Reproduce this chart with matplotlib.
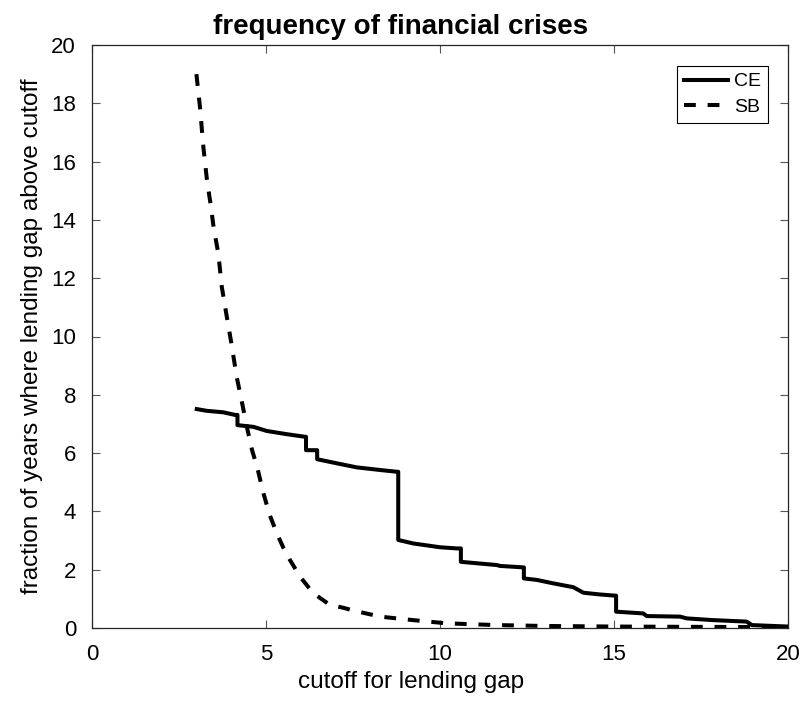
import matplotlib
matplotlib.use("Agg")
import matplotlib.pyplot as plt

# =====================================================
# DATA
# =====================================================

ce_x = [3.01, 3.30, 3.77, 4.11, 4.18, 4.18, 4.64, 5.02, 5.59, 6.12, 6.15, 6.15,
        6.46, 6.47, 6.47, 7.03, 7.61, 8.28, 8.76, 8.80, 8.80, 9.23, 10.0, 10.48,
        10.60, 10.60, 11.63, 11.72, 12.39, 12.41, 12.41, 12.78, 13.26, 13.83,
        14.12, 14.6, 15.03, 15.06, 15.06, 15.84, 15.94, 16.9, 17.09, 17.85,
        18.81, 18.96, 20.0]
ce_y = [7.51, 7.45, 7.40, 7.31, 7.31, 6.96, 6.90, 6.76, 6.65, 6.56, 6.56, 6.10,
        6.10, 6.10, 5.79, 5.65, 5.51, 5.42, 5.36, 5.36, 3.02, 2.90, 2.77, 2.73,
        2.73, 2.27, 2.16, 2.13, 2.08, 2.08, 1.70, 1.65, 1.53, 1.40, 1.21, 1.15,
        1.11, 1.11, 0.56, 0.50, 0.41, 0.39, 0.33, 0.27, 0.22, 0.10, 0.05]

sb_x = [3.0, 3.1, 3.2, 3.3, 3.4, 3.5, 3.63, 3.73, 3.87, 4.0, 4.16, 4.3, 4.45,
        4.6, 4.75, 4.92, 5.1, 5.31, 5.5, 5.69, 5.98, 6.36, 6.84, 7.2, 7.51,
        8.28, 9.23, 10.19, 11.63, 13.0, 15.0, 17.0, 20.0]
sb_y = [19.0, 17.9, 16.5, 15.4, 14.6, 13.7, 12.85, 11.7, 10.7, 9.8, 8.6, 7.8,
        6.9, 6.1, 5.5, 4.65, 3.9, 3.25, 2.75, 2.33, 1.76, 1.19, 0.79, 0.7, 0.6,
        0.39, 0.27, 0.16, 0.1, 0.07, 0.05, 0.04, 0.03]

x_ticks = [0, 5, 10, 15, 20]
y_ticks = [0, 2, 4, 6, 8, 10, 12, 14, 16, 18, 20]

# =====================================================
# STYLE
# =====================================================

plt.rcParams["font.family"] = ["Liberation Sans", "DejaVu Sans"]
plt.rcParams["lines.scale_dashes"] = False

# =====================================================
# FIGURE
# =====================================================

fig = plt.figure(figsize=(8.02, 7.07), dpi=100)
ax = fig.add_axes([92 / 802, 1 - 628 / 707, 696 / 802, 583 / 707])

ax.plot(ce_x, ce_y, color="black", lw=2.9, label="CE")
ax.plot(sb_x, sb_y, color="black", lw=2.9, dashes=(8.5, 8.5), label="SB")

ax.set_xlim(0, 20)
ax.set_ylim(0, 20)
ax.set_xticks(x_ticks)
ax.set_yticks(y_ticks)

ax.tick_params(direction="in", length=5.5, width=0.8, color="#555555",
               top=True, right=True, labelsize=16, pad=11.5)

for s in ax.spines.values():
    s.set_color("#262626")
    s.set_linewidth(0.9)

# title and xlabel sit a bit left of the axes centre in the original
ax.set_title("frequency of financial crises", fontsize=20,
             fontweight="bold", pad=8, x=0.443)
ax.set_xlabel("cutoff for lending gap", fontsize=17.5, labelpad=4, x=0.458)
ax.set_ylabel("fraction of years where lending gap above cutoff",
              fontsize=17.5, labelpad=6)

leg = ax.legend(loc="upper right", fontsize=14, handlelength=2.3,
                handletextpad=0.3, borderpad=0.35, labelspacing=0.4,
                borderaxespad=0, fancybox=False, framealpha=1,
                edgecolor="black",
                bbox_to_anchor=(1 - 20 / 696, 1 - 21 / 583))
leg.get_frame().set_linewidth(0.8)

fig.savefig("out.png", dpi=100)
